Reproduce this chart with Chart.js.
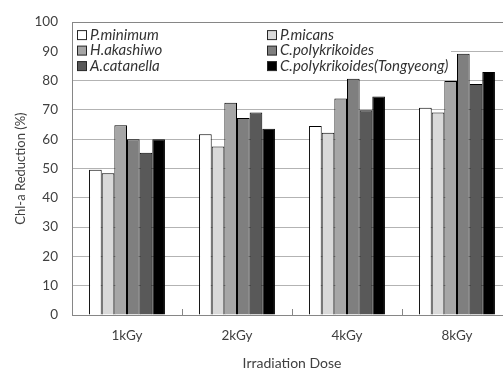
<!DOCTYPE html>
<html><head><meta charset="utf-8">
<script src="https://cdn.jsdelivr.net/npm/chart.js@4.4.1/dist/chart.umd.min.js"></script>
<style>
html,body{margin:0;padding:0;background:#fff;overflow:hidden;width:503px;height:372px;}
#wrap{width:512px;height:372px;position:relative;}
</style></head>
<body><div id="wrap"><canvas id="c"></canvas></div>
<script>
const categories = ['1kGy','2kGy','4kGy','8kGy'];
const seriesNames = ['P.minimum','P.micans','H.akashiwo','C.polykrikoides','A.catanella','C.polykrikoides(Tongyeong)'];
const pMinimum   = [49.6, 61.7, 64.5, 70.8];
const pMicans    = [48.4, 57.5, 62.2, 69.1];
const hAkashiwo  = [64.8, 72.5, 73.9, 79.9];
const cPoly      = [60.0, 67.3, 80.7, 89.2];
const aCatanella = [55.4, 69.1, 69.9, 78.9];
const cPolyTong  = [60.0, 63.6, 74.6, 83.0];
const yTicks = [0,10,20,30,40,50,60,70,80,90,100];
const colors = ['#ffffff','#d9d9d9','#a6a6a6','#7f7f7f','#595959','#000000'];
const values = [pMinimum,pMicans,hAkashiwo,cPoly,aCatanella,cPolyTong];

const FONT = 'Lato, "Open Sans", sans-serif';

const legendPlugin = {
  id: 'boxLegend',
  beforeDatasetsDraw(chart) {
    const ctx = chart.ctx;
    const a = chart.chartArea;
    ctx.save();
    ctx.fillStyle = '#fff';
    ctx.fillRect(a.left + 1, a.top + 1, 378, 50);
    ctx.font = 'italic 15px ' + FONT;
    ctx.textBaseline = 'middle';
    chart.data.datasets.forEach((ds, i) => {
      const col = i % 2, row = Math.floor(i / 2);
      const x = a.left + 5 + col * 190;
      const y = a.top + 13 + row * 15.5;
      ctx.fillStyle = ds.backgroundColor;
      ctx.fillRect(x + 0.5, y - 4.5, 9, 9);
      ctx.strokeStyle = '#262626';
      ctx.lineWidth = 1;
      ctx.strokeRect(x + 0.5, y - 4.5, 9, 9);
      ctx.fillStyle = '#333333';
      ctx.fillText(ds.label, x + 13, y);
    });
    ctx.restore();
  },
  afterDatasetsDraw(chart) {
    const ctx = chart.ctx;
    const xs = chart.scales.x;
    const a = chart.chartArea;
    ctx.save();
    ctx.strokeStyle = '#868686';
    ctx.lineWidth = 1;
    for (let i = 0; i <= categories.length; i++) {
      const px = Math.round(xs.getPixelForValue(i - 0.5)) + 0.5;
      ctx.beginPath();
      ctx.moveTo(px, a.bottom);
      ctx.lineTo(px, a.bottom - 6);
      ctx.stroke();
    }
    ctx.restore();
  }
};

new Chart(document.getElementById('c'), {
  type: 'bar',
  data: {
    labels: categories,
    datasets: seriesNames.map((n, i) => ({
      label: n,
      data: values[i],
      backgroundColor: colors[i],
      borderColor: '#000000',
      borderWidth: 1,
      borderSkipped: 'bottom',
      categoryPercentage: 0.69,
      barPercentage: 1.0
    }))
  },
  options: {
    responsive: true,
    maintainAspectRatio: false,
    animation: false,
    devicePixelRatio: 1,
    layout: { padding: { top: 15, right: 0, bottom: 0, left: 0 } },
    plugins: { legend: { display: false }, tooltip: { enabled: false } },
    scales: {
      x: {
        grid: { display: false, drawTicks: false },
        border: { color: '#868686', width: 1 },
        ticks: { color: '#404040', font: { family: FONT, size: 13.5 }, padding: 13 },
        title: { display: true, text: 'Irradiation Dose', color: '#404040', font: { family: FONT, size: 14 }, padding: { top: 0, bottom: 0 } },
        afterFit: s => { s.height = 57; }
      },
      y: {
        min: 0, max: 100,
        afterBuildTicks: s => { s.ticks = yTicks.map(v => ({ value: v })); },
        grid: { color: c => (c.tick && c.tick.value === 100) ? '#868686' : '#b3b3b3', drawTicks: false },
        border: { color: '#868686', width: 1 },
        ticks: { color: '#404040', font: { family: FONT, size: 13.5 }, padding: 14 },
        title: { display: true, text: 'Chl-a Reduction (%)', color: '#404040', font: { family: FONT, size: 13 }, padding: { top: 13, bottom: 0 } },
        afterFit: s => { s.width = 72; }
      }
    }
  },
  plugins: [legendPlugin]
});
</script>
</body></html>
